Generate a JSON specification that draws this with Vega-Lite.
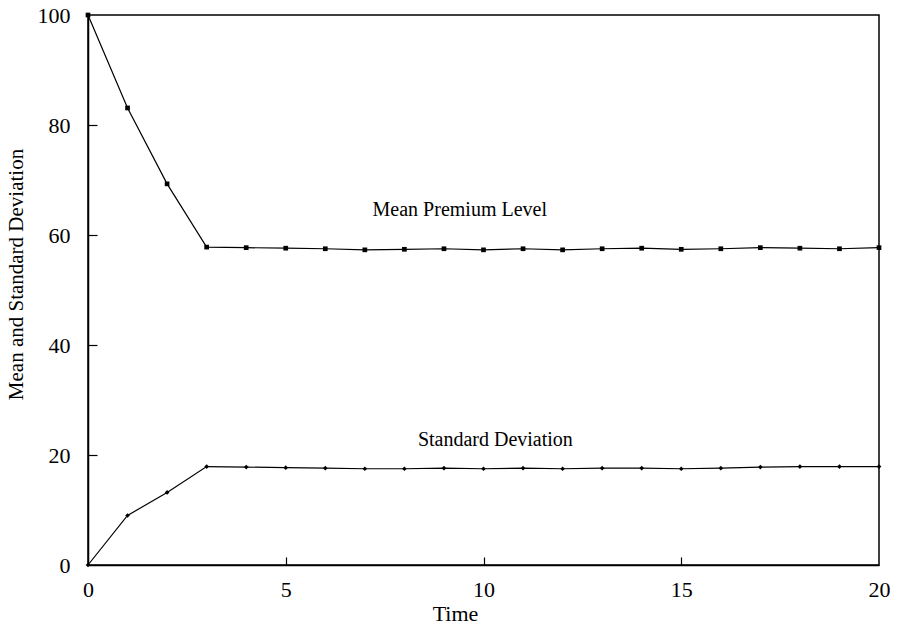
{
  "$schema": "https://vega.github.io/schema/vega-lite/v6.json",
  "autosize": "none",
  "width": 791,
  "height": 550,
  "padding": {"left": 88, "top": 15, "right": 19, "bottom": 60},
  "background": "white",
  "config": {
    "font": "Liberation Serif",
    "view": {"stroke": "black", "strokeWidth": 1.5},
    "axis": {"grid": false, "domainColor": "black", "domainWidth": 1.5, "tickColor": "black", "tickWidth": 1.2, "labelColor": "black", "titleColor": "black", "labelFont": "Liberation Serif", "titleFont": "Liberation Serif", "labelFontSize": 22, "titleFontSize": 21, "titleFontWeight": "normal"}
  },
  "datasets": {
    "series": [
      {"time": 0, "value": 100, "series": "Mean"},
      {"time": 1, "value": 83.1, "series": "Mean"},
      {"time": 2, "value": 69.3, "series": "Mean"},
      {"time": 3, "value": 57.8, "series": "Mean"},
      {"time": 4, "value": 57.7, "series": "Mean"},
      {"time": 5, "value": 57.6, "series": "Mean"},
      {"time": 6, "value": 57.5, "series": "Mean"},
      {"time": 7, "value": 57.3, "series": "Mean"},
      {"time": 8, "value": 57.4, "series": "Mean"},
      {"time": 9, "value": 57.5, "series": "Mean"},
      {"time": 10, "value": 57.3, "series": "Mean"},
      {"time": 11, "value": 57.5, "series": "Mean"},
      {"time": 12, "value": 57.3, "series": "Mean"},
      {"time": 13, "value": 57.5, "series": "Mean"},
      {"time": 14, "value": 57.6, "series": "Mean"},
      {"time": 15, "value": 57.4, "series": "Mean"},
      {"time": 16, "value": 57.5, "series": "Mean"},
      {"time": 17, "value": 57.7, "series": "Mean"},
      {"time": 18, "value": 57.6, "series": "Mean"},
      {"time": 19, "value": 57.5, "series": "Mean"},
      {"time": 20, "value": 57.7, "series": "Mean"},
      {"time": 0, "value": 0, "series": "SD"},
      {"time": 1, "value": 9.0, "series": "SD"},
      {"time": 2, "value": 13.2, "series": "SD"},
      {"time": 3, "value": 17.9, "series": "SD"},
      {"time": 4, "value": 17.8, "series": "SD"},
      {"time": 5, "value": 17.7, "series": "SD"},
      {"time": 6, "value": 17.6, "series": "SD"},
      {"time": 7, "value": 17.5, "series": "SD"},
      {"time": 8, "value": 17.5, "series": "SD"},
      {"time": 9, "value": 17.6, "series": "SD"},
      {"time": 10, "value": 17.5, "series": "SD"},
      {"time": 11, "value": 17.6, "series": "SD"},
      {"time": 12, "value": 17.5, "series": "SD"},
      {"time": 13, "value": 17.6, "series": "SD"},
      {"time": 14, "value": 17.6, "series": "SD"},
      {"time": 15, "value": 17.5, "series": "SD"},
      {"time": 16, "value": 17.6, "series": "SD"},
      {"time": 17, "value": 17.8, "series": "SD"},
      {"time": 18, "value": 17.9, "series": "SD"},
      {"time": 19, "value": 17.9, "series": "SD"},
      {"time": 20, "value": 17.9, "series": "SD"}
    ],
    "labels": [
      {"time": 9.4, "value": 64.5, "text": "Mean Premium Level"},
      {"time": 10.3, "value": 22.7, "text": "Standard Deviation"}
    ]
  },
  "resolve": {"axis": {"x": "independent", "y": "independent"}},
  "layer": [
    {
      "data": {"name": "series"},
      "mark": {"type": "line", "color": "black", "strokeWidth": 1.2},
      "encoding": {
        "x": {"field": "time", "type": "quantitative", "scale": {"domain": [0, 20], "nice": false, "zero": false}, "axis": {"orient": "bottom", "title": "Time", "values": [0, 5, 10, 15, 20], "ticks": false, "domain": true, "labelPadding": 14, "titleX": 367, "titleY": 48, "titleBaseline": "middle", "titleAlign": "center", "titleFontSize": 22, "labelFlush": false}},
        "y": {"field": "value", "type": "quantitative", "scale": {"domain": [0, 100], "nice": false}, "axis": {"orient": "left", "title": "Mean and Standard Deviation", "values": [0, 20, 40, 60, 80, 100], "ticks": false, "domain": true, "labelPadding": 18, "titleX": -72, "titleY": 259, "titleBaseline": "middle", "titleAlign": "center", "titleAngle": -90, "labelFlush": false}},
        "detail": {"field": "series"}
      }
    },
    {
      "data": {"name": "series"},
      "mark": {"type": "point", "filled": true, "color": "black", "opacity": 1, "size": 22},
      "encoding": {
        "x": {"field": "time", "type": "quantitative", "axis": {"orient": "bottom", "title": null, "values": [5, 10, 15], "labels": false, "domain": false, "ticks": true, "tickSize": 8, "offset": -8}},
        "y": {"field": "value", "type": "quantitative", "axis": {"orient": "left", "title": null, "values": [20, 40, 60, 80], "labels": false, "domain": false, "ticks": true, "tickSize": 9, "offset": -9}},
        "shape": {"field": "series", "type": "nominal", "scale": {"domain": ["Mean", "SD"], "range": ["square", "diamond"]}, "legend": null}
      }
    },
    {
      "data": {"name": "labels"},
      "mark": {"type": "text", "font": "Liberation Serif", "fontSize": 20, "color": "black", "align": "center", "baseline": "middle"},
      "encoding": {
        "x": {"field": "time", "type": "quantitative", "axis": null},
        "y": {"field": "value", "type": "quantitative", "axis": null},
        "text": {"field": "text"}
      }
    }
  ]
}
